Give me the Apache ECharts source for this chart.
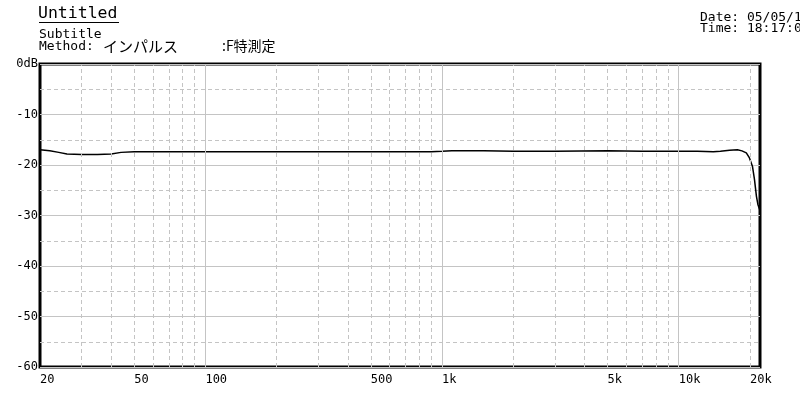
<!DOCTYPE html>
<html>
<head>
<meta charset="utf-8">
<script src="https://cdn.jsdelivr.net/npm/echarts@6/dist/echarts.min.js"></script>
<style>
html,body{margin:0;padding:0;background:#fff;}
#chart{width:800px;height:400px;}
</style>
</head>
<body>
<div id="chart"></div>
<script>
// ---- data ----
const freqHz = [20, 22, 24, 26, 30, 35, 40, 44, 50, 70, 100, 200, 500, 900, 1000, 1100, 1500, 2000, 3000, 5000, 7000, 10000, 12000, 14000, 15000, 16400, 17700, 18500, 19300, 19900, 20500, 20900, 21300, 21600, 22050];
const levelDb = [-17.0, -17.2, -17.5, -17.8, -17.9, -17.9, -17.8, -17.5, -17.4, -17.4, -17.4, -17.4, -17.4, -17.4, -17.3, -17.2, -17.2, -17.3, -17.3, -17.2, -17.3, -17.3, -17.3, -17.4, -17.3, -17.1, -17.0, -17.2, -17.6, -18.6, -20.3, -22.9, -26.2, -27.8, -29.0];
const xTickLabels = [20, 50, 100, 500, 1000, 5000, 10000, 20000];
const xGridMajor = [100, 1000, 10000];
const xGridMinor = [30, 40, 50, 60, 70, 80, 90, 200, 300, 400, 500, 600, 700, 800, 900, 2000, 3000, 4000, 5000, 6000, 7000, 8000, 9000, 20000];
const titleText = 'Untitled';
const subtitleText = 'Subtitle';
const methodParts = ['Method:', 'インパルス', ':F特測定'];
const dateText = 'Date: 05/05/10';
const timeText = 'Time: 18:17:05';

const MONO = '"DejaVu Sans Mono", "Liberation Mono", monospace';
const chart = echarts.init(document.getElementById('chart'), null, {renderer: 'canvas'});

const lineData = freqHz.map((f, i) => [f, levelDb[i]]);
const markData = xGridMinor.map(v => ({xAxis: v, lineStyle: {type: [4, 3], color: '#c4c4c4', width: 1}}))
  .concat(xGridMajor.map(v => ({xAxis: v, lineStyle: {type: 'solid', color: '#c4c4c4', width: 1}})));

chart.setOption({
  animation: false,
  backgroundColor: '#fff',
  grid: {left: 40, right: 40, top: 64, bottom: 33, show: true, borderColor: '#000', borderWidth: 3, backgroundColor: 'transparent'},
  graphic: [
    {type: 'text', left: 38, top: 5, style: {text: titleText, font: '16.5px ' + MONO, fill: '#000'}},
    {type: 'line', shape: {x1: 39, y1: 22.5, x2: 119, y2: 22.5}, style: {stroke: '#000', lineWidth: 1}},
    {type: 'text', left: 39, top: 28, style: {text: subtitleText, font: '13px ' + MONO, fill: '#000'}},
    {type: 'text', left: 39, top: 40, style: {text: methodParts[0], font: '13px ' + MONO, fill: '#000'}},
    {type: 'text', left: 103, top: 39, style: {text: methodParts[1], font: '15px "Noto Sans CJK JP"', fill: '#000'}},
    {type: 'text', left: 222, top: 39, style: {text: methodParts[2], font: '14px "Noto Sans CJK JP"', fill: '#000'}},
    {type: 'text', left: 700, top: 11, style: {text: dateText, font: '13px ' + MONO, fill: '#000'}},
    {type: 'text', left: 700, top: 22, style: {text: timeText, font: '13px ' + MONO, fill: '#000'}}
  ],
  xAxis: {
    type: 'log', logBase: 10, min: 20, max: 22050,
    axisLine: {show: false},
    axisTick: {show: false},
    splitLine: {show: false},
    axisLabel: {
      customValues: xTickLabels,
      align: 'left', margin: 7, color: '#000', fontFamily: MONO, fontSize: 12,
      formatter: v => v >= 1000 ? (v / 1000) + 'k' : String(v)
    }
  },
  yAxis: {
    type: 'value', min: -60, max: 0, interval: 10,
    axisLine: {show: false},
    axisTick: {show: false},
    axisLabel: {margin: 2, color: '#000', fontFamily: MONO, fontSize: 12,
      formatter: v => v === 0 ? '0dB' : String(v)},
    splitLine: {show: true, lineStyle: {color: '#c4c4c4', width: 1}},
    minorTick: {show: false, splitNumber: 2},
    minorSplitLine: {show: true, lineStyle: {color: '#c4c4c4', type: [4, 3], width: 1}}
  },
  series: [
    {
      type: 'line', data: [], silent: true, z: 1,
      markLine: {silent: true, symbol: ['none', 'none'], label: {show: false}, animation: false, data: markData}
    },
    {
      type: 'line', data: lineData, showSymbol: false, symbol: 'none', z: 3,
      lineStyle: {color: '#000', width: 1.5}, clip: true
    }
  ]
});
</script>
</body>
</html>
